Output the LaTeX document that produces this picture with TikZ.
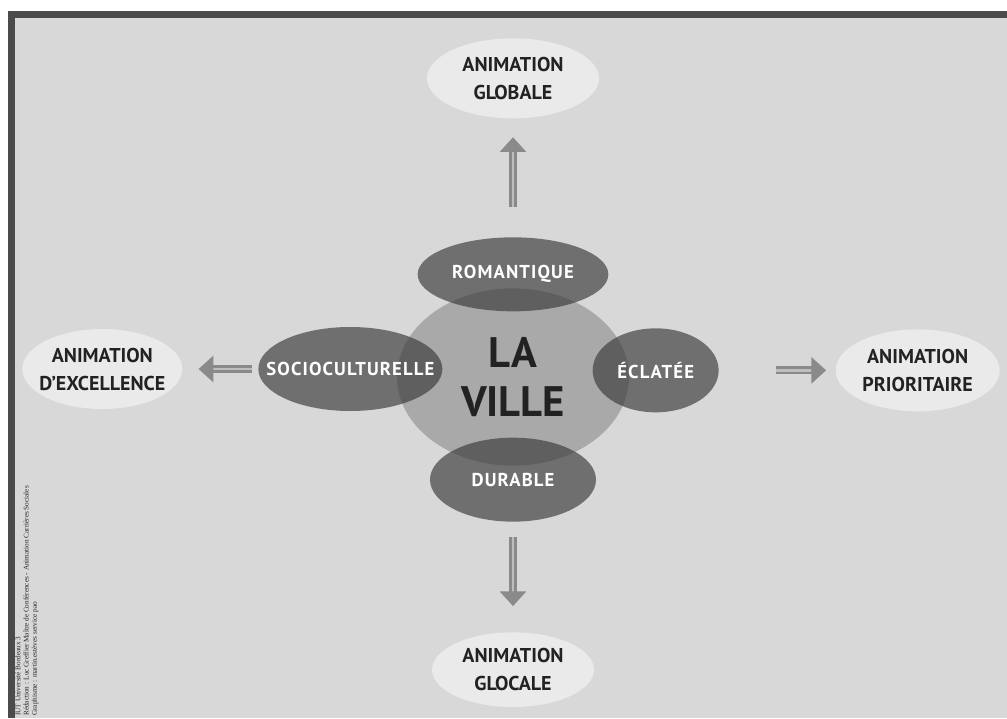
\documentclass[tikz,border=0pt]{standalone}
\usepackage{fontspec}
\setmainfont{Liberation Serif}
\newfontfamily\dinfont{PT Sans}
\newfontfamily\dinwidefont[LetterSpace=6]{PT Sans}
\usetikzlibrary{positioning,shapes.geometric,arrows.meta}
\definecolor{framegray}{HTML}{4B4B4B}
\definecolor{paper}{HTML}{D8D8D8}
\definecolor{palegray}{HTML}{EAEAEA}
\definecolor{villegray}{HTML}{A9A9A9}
\definecolor{petalgray}{HTML}{3A3A3A}
\definecolor{arrowgray}{HTML}{8A8A8A}
\definecolor{arrowlight}{HTML}{BEBEBE}
\definecolor{inkgray}{HTML}{222222}
\begin{document}
\begin{tikzpicture}[x=0.75pt,y=-0.75pt]
    % Define styles for nodes and arrows
    \tikzstyle{ville} = [ellipse, fill=villegray, minimum width=174pt, minimum height=133pt, inner sep=0pt, text=inkgray, align=center, font=\dinfont\bfseries\fontsize{32}{37}\selectfont]
    \tikzstyle{petal} = [ellipse, fill=petalgray, fill opacity=0.66, inner sep=0pt, minimum height=63pt]
    \tikzstyle{goal} = [ellipse, fill=palegray, inner sep=0pt, minimum width=122pt, minimum height=60pt]
    \tikzset{petal label/.style={text=white, opacity=1, fill opacity=1, text opacity=1, font=\dinwidefont\bfseries\fontsize{14}{16}\selectfont}}
    \tikzset{goal label/.style={text=inkgray, align=center, font=\dinfont\bfseries\fontsize{15}{21}\selectfont}}
    % Arrow style for double lines
    \tikzset{doubleArrow/.style={draw=arrowgray, double=arrowlight, double distance=2.2pt, line width=1.9pt,
        -{Triangle[width=19.5pt,length=11pt]}
    }}
    % Frame
    \useasboundingbox (0,0) rectangle (1007,718);
    \fill[white] (0,0) rectangle (1007,718);
    \fill[framegray] (8,11) rectangle (1007,718);
    \fill[paper] (15,18) rectangle (1007,718);
    % Nodes
    \node (ville) [ville] at (513,377) {LA\\VILLE};
    \node (romantique) [petal, minimum width=143pt, minimum height=55.5pt, above of=ville, node distance=77pt, label={[petal label]center:ROMANTIQUE}] {};
    \node (durable) [petal, minimum width=124.5pt, below of=ville, node distance=77pt, label={[petal label]center:DURABLE}] {};
    \node (socio) [petal, minimum width=138pt, left of=ville, node distance=122pt, yshift=6pt, label={[petal label]center:SOCIOCULTURELLE}] {};
    \node (eclatee) [petal, minimum width=94.5pt, right of=ville, node distance=107pt, yshift=5pt, label={[petal label]center:ÉCLATÉE}] {};
    \node (globale) [goal, minimum width=129pt, above of=romantique, node distance=147pt, label={[goal label]center:ANIMATION\\GLOBALE}] {};
    \node (glocale) [goal, minimum width=121.5pt, minimum height=56pt, below of=durable, node distance=142.5pt, label={[goal label]center:ANIMATION\\GLOCALE}] {};
    \node (excellence) [goal, minimum width=120pt, left of=socio, node distance=186pt, label={[goal label]center:ANIMATION\\D’EXCELLENCE}] {};
    \node (prioritaire) [goal, minimum width=123pt, minimum height=61.5pt, right of=eclatee, node distance=196.5pt, label={[goal label]center:ANIMATION\\PRIORITAIRE}] {};
    % Credits
    \node (credits) [rotate=90, anchor=north west, align=left, inner sep=0pt, text=inkgray, font=\fontsize{5.4}{6.2}\selectfont] at (15,716) {IUT Université Bordeaux 3\\Rédaction : Luc Greffier Maître de Conférences - Animation Carrières Sociales\\Graphisme : martin.estèves service pao};
    % Arrows (connections)
    \draw [doubleArrow, shorten <=22.5pt, shorten >=14pt] (romantique) -- (globale);
    \draw [doubleArrow, shorten <=11pt, shorten >=19.5pt] (durable) -- (glocale);
    \draw [doubleArrow, shorten <=4.5pt, shorten >=12pt] (socio) -- (excellence);
    \draw [doubleArrow, shorten <=43pt, shorten >=7pt] (eclatee) -- (prioritaire);
\end{tikzpicture}
\end{document}
